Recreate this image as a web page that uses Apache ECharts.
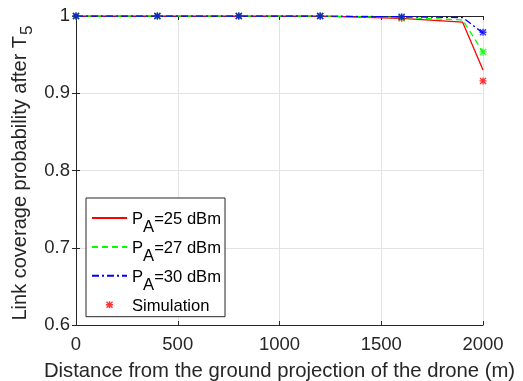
<!DOCTYPE html>
<html>
<head>
<meta charset="utf-8">
<script src="https://cdn.jsdelivr.net/npm/echarts@6/dist/echarts.min.js"></script>
<style>html,body{margin:0;padding:0;background:#fff}#c{width:523px;height:381px}</style>
</head>
<body>
<div id="c"></div>
<script>
// ---- data ----
const xTicks = [0, 500, 1000, 1500, 2000];
const yTicks = [0.6, 0.7, 0.8, 0.9, 1];
const lineX = [0, 400, 800, 1200, 1600, 1900, 2000];
const line25 = [1, 1, 1, 1, 0.997, 0.992, 0.930];
const line27 = [1, 1, 1, 1, 0.998, 0.995, 0.953];
const line30 = [1, 1, 1, 1, 0.999, 0.998, 0.978];
const simX = [0, 400, 800, 1200, 1600, 2000];
const sim25 = [1, 1, 1, 1, 0.997, 0.916];
const sim27 = [1, 1, 1, 1, 0.998, 0.9535];
const sim30 = [1, 1, 1, 1, 0.999, 0.979];
const seriesNames = ['P_A=25 dBm', 'P_A=27 dBm', 'P_A=30 dBm', 'Simulation'];
const colors = ['#ff0000', '#00ff00', '#0000ff'];
const xTitle = 'Distance from the ground projection of the drone (m)';
const yTitleMain = 'Link coverage probability after T';
const yTitleSub = '5';

const FONT = 'Liberation Sans, Arial, Helvetica, sans-serif';
const star = 'path://M4,0L6,0L6,10L4,10Z M0,4L10,4L10,6L0,6Z M1.4,0L10,8.6L8.6,10L0,1.4Z M8.6,0L10,1.4L1.4,10L0,8.6Z';

const pairs = (xs, ys) => xs.map((x, i) => [x, ys[i]]);
const simData = [];
[sim25, sim27, sim30].forEach((arr, k) => {
  arr.forEach((v, i) => simData.push({ value: [simX[i], v], itemStyle: { color: colors[k] } }));
});

const chart = echarts.init(document.getElementById('c'));
const TXT = '#262626';
const axisCommon = {
  axisLine: { show: true, lineStyle: { color: TXT, width: 1 } },
  axisTick: { show: true, inside: true, length: 4, lineStyle: { color: TXT } },
  splitLine: { show: false }
};
chart.setOption({
  animation: false,
  backgroundColor: '#fff',
  grid: { left: 76, right: 40, top: 16, bottom: 56, show: false, containLabel: false, outerBoundsMode: 'none' },
  graphic: [{
    type: 'text', x: 20, y: 173, rotation: Math.PI / 2, z: 10,
    style: {
      text: '{n|' + yTitleMain + '}{s|' + yTitleSub + '}',
      align: 'center', verticalAlign: 'middle',
      fill: TXT, font: '20px ' + FONT,
      rich: {
        n: { fontSize: 20, fontFamily: FONT, fill: TXT, lineHeight: 20, verticalAlign: 'top' },
        s: { fontSize: 17, fontFamily: FONT, fill: TXT, lineHeight: 20, verticalAlign: 'top', padding: [9, 0, 0, 1] }
      }
    }
  }],
  xAxis: [
    Object.assign({}, axisCommon, {
      type: 'value', min: xTicks[0], max: xTicks[xTicks.length - 1], interval: xTicks[1] - xTicks[0], position: 'bottom',
      axisLabel: { color: TXT, fontSize: 18.5, fontFamily: FONT, margin: 10, formatter: v => String(v) },
      splitLine: { show: true, lineStyle: { color: '#e3e3e3', width: 1 } },
      name: xTitle,
      nameLocation: 'middle', nameGap: 36,
      nameTextStyle: { color: TXT, fontSize: 20.3, fontFamily: FONT }
    }),
    Object.assign({}, axisCommon, {
      type: 'value', min: xTicks[0], max: xTicks[xTicks.length - 1], interval: xTicks[1] - xTicks[0], position: 'top',
      axisLabel: { show: false }
    })
  ],
  yAxis: [
    Object.assign({}, axisCommon, {
      type: 'value', min: yTicks[0], max: yTicks[yTicks.length - 1], interval: 0.1, position: 'left',
      axisLabel: { color: TXT, fontSize: 18.5, fontFamily: FONT, margin: 6, formatter: v => String(+v.toFixed(1)) },
      splitLine: { show: true, lineStyle: { color: '#e3e3e3', width: 1 } }
    }),
    Object.assign({}, axisCommon, {
      type: 'value', min: yTicks[0], max: yTicks[yTicks.length - 1], interval: 0.1, position: 'right',
      axisLabel: { show: false }
    })
  ],
  legend: {
    orient: 'vertical', left: 86, top: 198,
    padding: [12, 4, 2, 5],
    itemGap: 2.9, itemWidth: 35, itemHeight: 7,
    backgroundColor: '#fff', borderColor: TXT, borderWidth: 1, borderRadius: 0,
    data: [
      { name: seriesNames[0], itemStyle: { opacity: 0 } },
      { name: seriesNames[1], itemStyle: { opacity: 0 } },
      { name: seriesNames[2], itemStyle: { opacity: 0 } },
      { name: seriesNames[3] }
    ],
    formatter: function (name) {
      if (name.indexOf('P_A') === 0) return '{n|P}{s|A}{n|' + name.slice(3) + '}';
      return '{m|' + name + '}';
    },
    textStyle: {
      fontFamily: FONT, fontSize: 16.6, color: '#000',
      rich: {
        n: { fontSize: 16.6, fontFamily: FONT, color: '#000', lineHeight: 16, verticalAlign: 'top', padding: [1, 0, 0, 0] },
        s: { fontSize: 16.6, fontFamily: FONT, color: '#000', lineHeight: 16, verticalAlign: 'top', padding: [9, 0, 0, 0] },
        m: { fontSize: 16.6, fontFamily: FONT, color: '#000', lineHeight: 16, verticalAlign: 'top', padding: [1, 0, 0, 0] }
      }
    }
  },
  series: [
    { name: seriesNames[0], type: 'line', data: pairs(lineX, line25), symbol: 'none', z: 2,
      lineStyle: { color: colors[0], width: 1.3, type: 'solid' }, itemStyle: { color: colors[0] } },
    { name: seriesNames[1], type: 'line', data: pairs(lineX, line27), symbol: 'none', z: 3,
      lineStyle: { color: colors[1], width: 1.3, type: [6, 4] }, itemStyle: { color: colors[1] } },
    { name: seriesNames[2], type: 'line', data: pairs(lineX, line30), symbol: 'none', z: 4,
      lineStyle: { color: colors[2], width: 1.3, type: [7, 3, 2, 3] }, itemStyle: { color: colors[2] } },
    { name: seriesNames[3], type: 'scatter', data: simData, symbol: star, symbolSize: 7, z: 5,
      itemStyle: { color: colors[0] } }
  ]
});
</script>
</body>
</html>
